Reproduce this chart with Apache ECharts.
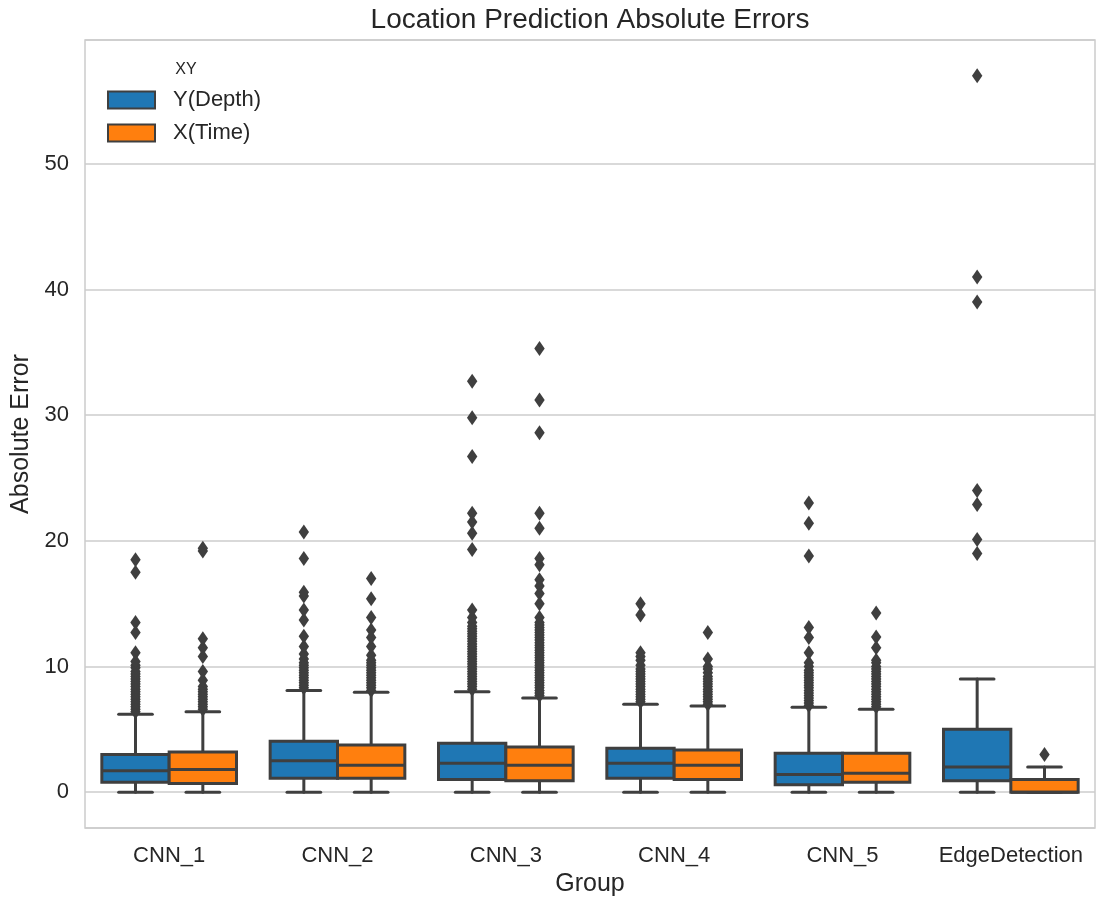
<!DOCTYPE html>
<html>
<head>
<meta charset="utf-8">
<script src="https://cdn.jsdelivr.net/npm/echarts@6/dist/echarts.min.js"></script>
<style>html,body{margin:0;padding:0;background:#fff}#c{width:1096px;height:899px}</style>
</head>
<body>
<div id="c"></div>
<script>
const categories = ['CNN_1', 'CNN_2', 'CNN_3', 'CNN_4', 'CNN_5', 'EdgeDetection'];
const hueNames = ['Y(Depth)', 'X(Time)'];
const yTicks = [0, 10, 20, 30, 40, 50];

// [min, Q1, median, Q3, max] per group
const depthStats = [
  [0, 0.8, 1.7, 3.0, 6.2],
  [0, 1.1, 2.5, 4.05, 8.1],
  [0, 1.0, 2.3, 3.9, 8.0],
  [0, 1.1, 2.3, 3.5, 7.0],
  [0, 0.6, 1.4, 3.1, 6.75],
  [0, 0.9, 2.0, 5.0, 9.0]
];
const timeStats = [
  [0, 0.7, 1.8, 3.2, 6.4],
  [0, 1.1, 2.15, 3.75, 7.95],
  [0, 0.9, 2.15, 3.6, 7.5],
  [0, 1.0, 2.15, 3.35, 6.85],
  [0, 0.8, 1.5, 3.1, 6.6],
  [0, 0, 0, 1.0, 2.0]
];

const depthOutliers = [
  [6.4, 6.6, 6.8, 7.0, 7.2, 7.4, 7.6, 7.8, 8.0, 8.2, 8.4, 8.6, 8.8, 9.0, 9.2, 9.4, 9.6, 9.9, 10.1, 10.4, 11.1, 12.7, 13.5, 17.5, 18.5],
  [8.3, 8.5, 8.7, 8.9, 9.1, 9.3, 9.5, 9.7, 9.9, 10.1, 10.3, 10.6, 11.0, 11.6, 12.4, 13.7, 14.5, 15.6, 15.9, 18.6, 20.7],
  [8.2, 8.4, 8.6, 8.8, 9.0, 9.2, 9.4, 9.6, 9.8, 10.0, 10.2, 10.4, 10.6, 10.8, 11.0, 11.2, 11.4, 11.6, 11.8, 12.0, 12.2, 12.4, 12.6, 12.8, 13.0, 13.2, 13.5, 13.9, 14.5, 19.3, 20.6, 21.5, 22.2, 26.7, 29.8, 32.7],
  [7.2, 7.4, 7.6, 7.8, 8.0, 8.2, 8.4, 8.6, 8.8, 9.0, 9.2, 9.4, 9.6, 9.8, 10.1, 10.5, 10.8, 11.1, 14.1, 15.0],
  [6.9, 7.1, 7.3, 7.5, 7.7, 7.9, 8.1, 8.3, 8.5, 8.7, 8.9, 9.1, 9.3, 9.5, 9.7, 10.0, 10.3, 11.1, 12.3, 13.1, 18.8, 21.4, 23.0],
  [19.0, 20.1, 22.9, 24.0, 39.0, 41.0, 57.0]
];
const timeOutliers = [
  [6.6, 6.8, 7.0, 7.2, 7.4, 7.6, 7.8, 8.0, 8.2, 8.4, 8.9, 9.6, 10.8, 11.5, 12.2, 19.2, 19.4],
  [8.1, 8.3, 8.5, 8.7, 8.9, 9.1, 9.3, 9.5, 9.7, 9.9, 10.1, 10.3, 10.5, 10.9, 11.6, 12.3, 12.9, 13.9, 15.4, 17.0],
  [7.7, 7.9, 8.1, 8.3, 8.5, 8.7, 8.9, 9.1, 9.3, 9.5, 9.7, 9.9, 10.1, 10.3, 10.5, 10.7, 10.9, 11.1, 11.3, 11.5, 11.7, 11.9, 12.1, 12.3, 12.5, 12.7, 12.9, 13.1, 13.3, 13.5, 13.9, 15.0, 15.8, 16.4, 16.9, 18.1, 18.6, 21.0, 22.2, 28.6, 31.2, 35.3],
  [7.0, 7.2, 7.4, 7.6, 7.8, 8.0, 8.2, 8.4, 8.6, 8.8, 9.0, 9.2, 9.5, 9.8, 10.0, 10.6, 12.7],
  [6.8, 7.0, 7.2, 7.4, 7.6, 7.8, 8.0, 8.2, 8.4, 8.6, 8.8, 9.0, 9.2, 9.4, 9.6, 9.8, 10.0, 10.3, 10.5, 11.5, 12.35, 14.25],
  [3.0]
];

const COLORS = ['#1f77b4', '#ff7f0e'];
const EDGE = '#3f3f3f';
const LW = 3;
const FONT = 'Liberation Sans';
const TXT = '#262626';

function boxData(stats) {
  return stats.map((s, i) => [i].concat(s));
}
function outlierData(outs) {
  const res = [];
  outs.forEach((arr, i) => arr.forEach(v => res.push([i, v])));
  return res;
}

function boxRender(offsetFrac, color) {
  return function (params, api) {
    const ci = api.value(0);
    const band = api.size([1, 0])[0];
    const cx = api.coord([ci, 0])[0] + offsetFrac * band;
    const w = 0.4 * band;
    const y = k => api.coord([ci, api.value(k)])[1];
    const yMin = y(1), yQ1 = y(2), yMed = y(3), yQ3 = y(4), yMax = y(5);
    const lineStyle = { stroke: EDGE, lineWidth: LW, fill: null, lineCap: 'round' };
    const capW = w / 2;
    return {
      type: 'group',
      children: [
        { type: 'line', shape: { x1: cx, y1: yQ1, x2: cx, y2: yMin }, style: lineStyle },
        { type: 'line', shape: { x1: cx, y1: yQ3, x2: cx, y2: yMax }, style: lineStyle },
        { type: 'line', shape: { x1: cx - capW / 2, y1: yMin, x2: cx + capW / 2, y2: yMin }, style: lineStyle },
        { type: 'line', shape: { x1: cx - capW / 2, y1: yMax, x2: cx + capW / 2, y2: yMax }, style: lineStyle },
        { type: 'rect', shape: { x: cx - w / 2, y: yQ3, width: w, height: yQ1 - yQ3 },
          style: { fill: color, stroke: EDGE, lineWidth: LW } },
        { type: 'line', shape: { x1: cx - w / 2, y1: yMed, x2: cx + w / 2, y2: yMed }, style: { stroke: EDGE, lineWidth: LW } }
      ]
    };
  };
}

function outlierRender(offsetFrac) {
  return function (params, api) {
    const ci = api.value(0);
    const band = api.size([1, 0])[0];
    const p = api.coord([ci, api.value(1)]);
    const cx = p[0] + offsetFrac * band, cy = p[1];
    const hw = 5.2, hh = 7.5;
    return {
      type: 'polygon',
      shape: { points: [[cx, cy - hh], [cx + hw, cy], [cx, cy + hh], [cx - hw, cy]] },
      style: { fill: EDGE, stroke: null }
    };
  };
}

const chart = echarts.init(document.getElementById('c'), null, { renderer: 'canvas' });
chart.setOption({
  backgroundColor: '#ffffff',
  animation: false,
  textStyle: { fontFamily: FONT },
  grid: { left: 85, right: 1, top: 40, bottom: 71, show: true, borderColor: '#cccccc', borderWidth: 1.5, backgroundColor: '#ffffff', outerBoundsMode: 'none', containLabel: false },
  graphic: [
    { type: 'text', x: 590, y: 20, style: { text: 'Location Prediction Absolute Errors', fontSize: 28, fontFamily: FONT, fill: TXT, textAlign: 'center', textVerticalAlign: 'middle' } },
    { type: 'text', x: 186, y: 70, style: { text: 'XY', fontSize: 16, fontFamily: FONT, fill: TXT, textAlign: 'center', textVerticalAlign: 'middle' } }
  ],
  legend: {
    orient: 'vertical', left: 102, top: 84, itemWidth: 47, itemHeight: 17, itemGap: 11,
    icon: 'rect',
    textStyle: { fontSize: 22, fontFamily: FONT, color: TXT, padding: [0, 0, 0, 13], lineHeight: 22 },
    data: hueNames.map((n, i) => ({ name: n, itemStyle: { color: COLORS[i], borderColor: EDGE, borderWidth: 2 } }))
  },
  xAxis: {
    type: 'category', data: categories, boundaryGap: true,
    axisLine: { show: false }, axisTick: { show: false },
    axisLabel: { fontSize: 22, color: TXT, margin: 17, fontFamily: FONT, interval: 0 },
    splitLine: { show: false },
    name: 'Group', nameLocation: 'middle', nameGap: 43,
    nameTextStyle: { fontSize: 25, color: TXT, fontFamily: FONT }
  },
  yAxis: {
    type: 'value', min: -2.85, max: 59.85, splitNumber: 5,
    axisLine: { show: false }, axisTick: { show: false },
    axisLabel: { fontSize: 22, color: TXT, margin: 16, fontFamily: FONT, showMinLabel: false, showMaxLabel: false,
      formatter: v => (yTicks.indexOf(Math.round(v * 100) / 100) >= 0 ? String(Math.round(v)) : '') },
    splitLine: { show: true, lineStyle: { color: '#cccccc', width: 1.5 } },
    name: 'Absolute Error', nameLocation: 'middle', nameGap: 48,
    nameTextStyle: { fontSize: 25, color: TXT, fontFamily: FONT }
  },
  series: [
    { name: hueNames[0], type: 'custom', renderItem: boxRender(-0.2, COLORS[0]), data: boxData(depthStats),
      encode: { x: 0, y: [1, 2, 3, 4, 5] }, itemStyle: { color: COLORS[0] }, z: 2 },
    { name: hueNames[1], type: 'custom', renderItem: boxRender(0.2, COLORS[1]), data: boxData(timeStats),
      encode: { x: 0, y: [1, 2, 3, 4, 5] }, itemStyle: { color: COLORS[1] }, z: 2 },
    { name: hueNames[0], type: 'custom', renderItem: outlierRender(-0.2), data: outlierData(depthOutliers),
      encode: { x: 0, y: 1 }, itemStyle: { color: COLORS[0] }, z: 3 },
    { name: hueNames[1], type: 'custom', renderItem: outlierRender(0.2), data: outlierData(timeOutliers),
      encode: { x: 0, y: 1 }, itemStyle: { color: COLORS[1] }, z: 3 }
  ]
});
</script>
</body>
</html>
